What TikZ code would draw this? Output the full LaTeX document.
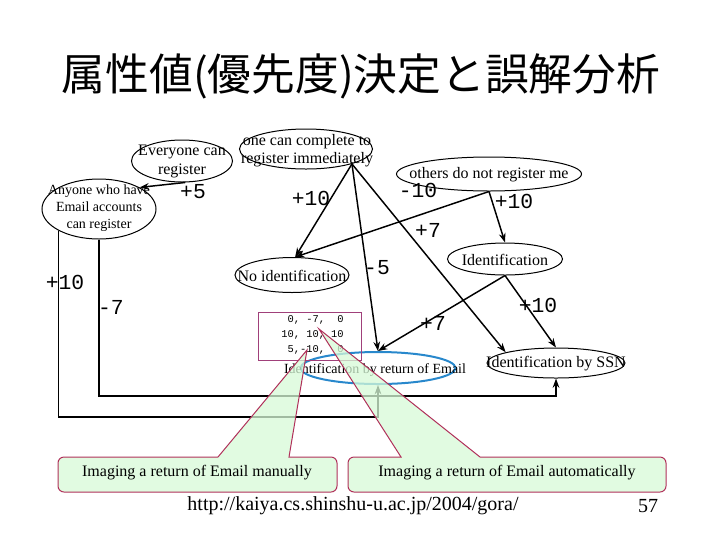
\documentclass[tikz,border=0pt]{standalone}
\usepackage{fontspec}
\setmainfont{Liberation Serif}
\setmonofont{Liberation Mono}
\newfontfamily\cjkfont{Noto Sans CJK JP}
\usetikzlibrary{shapes.geometric,arrows.meta}
\definecolor{calloutfill}{RGB}{215,250,215}
\definecolor{calloutline}{RGB}{176,48,90}
\definecolor{boxline}{RGB}{160,64,122}
\definecolor{emailblue}{RGB}{40,136,204}
\tikzset{
 ell/.style={ellipse, draw, line width=0.75pt, inner sep=0pt},
 txt/.style={inner sep=0pt, align=center, font=\fontsize{12}{14.25}\selectfont},
 smalltxt/.style={inner sep=0pt, align=center, font=\fontsize{10.5}{12.75}\selectfont},
 lbl/.style={inner sep=0pt, font=\ttfamily\fontsize{16}{18}\selectfont},
 numtxt/.style={inner sep=0pt, align=right, font=\ttfamily\fontsize{7.8}{11.25}\selectfont},
 conn/.style={line width=1.1pt, -{Stealth[length=7pt,width=5pt]}},
 callout/.style={fill=calloutfill, fill opacity=0.75, draw=calloutline, line width=0.75pt},
}
\begin{document}
\begin{tikzpicture}[x=0.75pt,y=0.75pt]
\path[use as bounding box] (0,0) rectangle (720,-540);

% title
\node[inner sep=0pt, font=\cjkfont\fontsize{32.8}{40}\selectfont] (title) at (361,-76) {属性値(優先度)決定と誤解分析};

% ellipses
\node[ell, minimum width=75.75pt, minimum height=31.5pt] (every) at (182,-161) {};
\node[txt, font=\fontsize{12}{14.25}\selectfont] (everyt) at (182,-161) {Everyone can\\register};
\node[ell, minimum width=99.75pt, minimum height=30pt] (immed) at (306,-149) {};
\node[txt, font=\fontsize{12}{13.5}\selectfont] (immedt) at (307,-151) {one can complete to\\register immediately};
\node[ell, minimum width=85.5pt, minimum height=45pt] (anyone) at (99,-209) {};
\node[smalltxt] (anyonet) at (99,-208) {Anyone who have\\Email accounts\\can register};
\node[ell, minimum width=138.75pt, minimum height=25.5pt] (others) at (489,-174) {};
\node[txt] (otherst) at (489,-175) {others do not register me};
\node[ell, minimum width=86.25pt, minimum height=24pt] (ident) at (505,-259) {};
\node[txt] (identt) at (505,-260) {Identification};
\node[ell, minimum width=85.5pt, minimum height=26.25pt] (noid) at (292,-275) {};
\node[txt] (noidt) at (292,-276) {No identification};
\node[ell, draw=emailblue, line width=1.5pt, minimum width=116.25pt, minimum height=24pt] (email) at (378,-368) {};
\node[smalltxt] (emailt) at (375,-370) {Identification by return of Email};
\node[ell, minimum width=103.5pt, minimum height=22.5pt] (ssn) at (556,-363) {};
\node[txt] (ssnt) at (556,-364) {Identification by SSN};

% number box
\node[draw=boxline, line width=0.75pt, minimum width=77.25pt, minimum height=36pt, inner sep=0pt] (numbox) at (309.5,-336) {};
\node[numtxt, anchor=east] (numt) at (344,-335) {0, -7,\ \ 0\\10, 10, 10\\5,-10,\ \ 0};

% connectors
\coordinate (apex) at (immed.342);
\coordinate (low1) at (0,-417);
\coordinate (low2) at (0,-396);
\draw[conn] (every.279) -- (anyone.28);
\draw[conn] (apex) -- (noid.80);
\draw[conn] (apex) -- (email.north);
\draw[conn] (apex) -- (ssn.168);
\draw[conn] (others.south) -- (noid.80);
\draw[conn] (others.south) -- (ident.north);
\draw[conn] (ident.south) -- (email.north);
\draw[conn] (ident.south) -- (ssn.north);
\draw[conn, line width=0.8pt] (anyone.208) -- (anyone.208 |- low1) -| (email.south);
\draw[conn, line width=1.5pt] (anyone.south) -- (anyone.south |- low2) -| (ssn.south);

% labels
\node[lbl] (l1) at (193,-192) {+5};
\node[lbl] (l2) at (311,-198) {+10};
\node[lbl] (l3) at (418,-190) {-10};
\node[lbl] (l4) at (514,-201) {+10};
\node[lbl] (l5) at (428,-230) {+7};
\node[lbl] (l6) at (377,-268) {-5};
\node[lbl] (l7) at (538,-305) {+10};
\node[lbl] (l8) at (433,-323) {+7};
\node[lbl] (l9) at (65,-282) {+10};
\node[lbl] (l10) at (111,-307) {-7};

% callouts
\filldraw[callout] (64,-457) -- (218,-457) -- (307,-350) -- (289,-457) -- (331,-457)
  arc[start angle=90,end angle=0,radius=6] -- (337,-486)
  arc[start angle=0,end angle=-90,radius=6] -- (64,-492)
  arc[start angle=270,end angle=180,radius=6] -- (58,-463)
  arc[start angle=180,end angle=90,radius=6] -- cycle;
\node[txt] (c1t) at (197,-473) {Imaging a return of Email manually};
\filldraw[callout] (354,-457) -- (401,-457) -- (319,-329) -- (480,-457) -- (660,-457)
  arc[start angle=90,end angle=0,radius=6] -- (666,-486)
  arc[start angle=0,end angle=-90,radius=6] -- (354,-492)
  arc[start angle=270,end angle=180,radius=6] -- (348,-463)
  arc[start angle=180,end angle=90,radius=6] -- cycle;
\node[txt] (c2t) at (507,-473) {Imaging a return of Email automatically};

% footer
\node[inner sep=0pt, font=\fontsize{15}{18}\selectfont] (url) at (353,-506) {http://kaiya.cs.shinshu-u.ac.jp/2004/gora/};
\node[inner sep=0pt, font=\fontsize{15}{18}\selectfont] (pg) at (648,-506) {57};
\end{tikzpicture}
\end{document}
